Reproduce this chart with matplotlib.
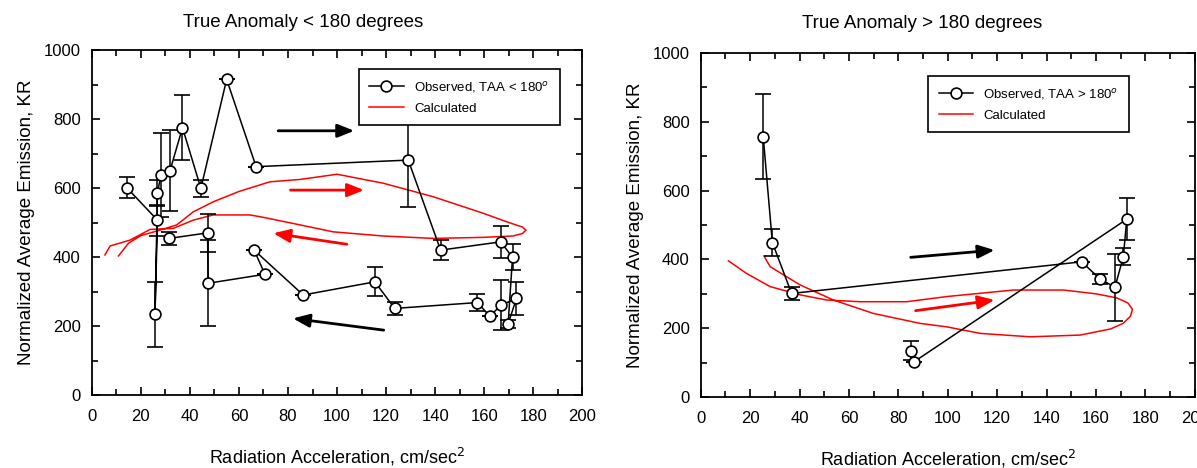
import numpy as np
import matplotlib
matplotlib.use("Agg")
import matplotlib.pyplot as plt
from matplotlib.ticker import MultipleLocator
from matplotlib.lines import Line2D

plt.rcParams['font.family'] = ['Liberation Sans', 'DejaVu Sans']

# ---- TAA < 180 : observed (in time order) ----
obs_lt_x = [14.3, 26.8, 25.8, 26.8, 28.2, 31.9, 37.0, 44.5, 55.0, 67.0, 129.0, 142.2,
            166.7, 171.5, 169.7, 173.1, 167.0, 162.2, 157.2, 123.5, 115.4, 86.2,
            66.2, 70.6, 47.5, 47.2, 31.6]
obs_lt_y = [601, 507, 234, 585, 638, 650, 775, 599, 915, 662, 681, 420,
            444, 399, 206, 280, 261, 229, 268, 251, 328, 290,
            420, 350, 324, 470, 454]
obs_lt_err = [30, 45, 95, 38, 122, 118, 95, 25, 0, 0, 137, 30,
              47, 38, 12, 48, 72, 0, 25, 18, 42, 0,
              0, 0, 124, 54, 18]

# ---- TAA < 180 : calculated loop ----
calc_lt_x = [10.9, 15.0, 20.0, 27.8, 34.6, 41.4, 49.5, 60.0, 72.6, 85.0, 100.0, 118.8,
             139.1, 159.5, 170.0, 175.5, 177.0, 175.5, 171.7, 159.5, 139.1, 118.8, 98.4,
             85.0, 70.0, 64.5, 49.5, 41.4, 33.2, 23.8, 15.6, 7.5, 5.4]
calc_lt_y = [403, 440, 462, 478, 493, 531, 560, 590, 618, 625, 640, 614,
             575, 527, 500, 487, 478, 468, 461, 457, 454, 461, 473,
             493, 515, 522, 522, 507, 483, 480, 449, 432, 406]

# ---- TAA > 180 : observed ----
obs_gt_x = [25.3, 29.0, 36.8, 154.2, 161.7, 167.7, 171.1, 172.5, 86.5, 85.0]
obs_gt_y = [757, 449, 301, 393, 343, 319, 408, 517, 103, 135]
obs_gt_err = [123, 40, 20, 0, 15, 98, 25, 62, 0, 28]

# ---- TAA > 180 : calculated loop ----
calc_gt_x = [11.2, 18.6, 28.1, 40.2, 51.0, 64.5, 83.4, 99.6, 126.6, 146.8, 160.0, 168.5,
             173.0, 174.8, 174.0, 171.0, 166.0, 153.6, 133.3, 113.1, 99.6, 88.8, 69.9,
             53.7, 40.2, 28.1, 25.6]
calc_gt_y = [396, 359, 321, 297, 282, 277, 277, 292, 311, 311, 300, 288,
             273, 255, 235, 214, 198, 180, 175, 185, 204, 214, 243,
             282, 326, 379, 410]

# direction arrows: (x_start, y_start, x_end, y_end, colour)
arrows_lt = [(76, 766, 107, 766, 'black'),
             (81, 594, 111, 594, 'red'),
             (104, 437, 74, 469, 'red'),
             (119, 188, 82, 222, 'black')]
arrows_gt = [(85, 406, 119, 427, 'black'),
             (87, 251, 119, 282, 'red')]

fig = plt.figure(figsize=(11.97, 4.68), dpi=100)
ax1 = fig.add_axes([0.0766, 0.156, 0.410, 0.737])
ax2 = fig.add_axes([0.5854, 0.1517, 0.4127, 0.735])


def draw_panel(ax, ox, oy, oe, cx, cy, arrows, label, title, title_x, title_y, leg_anchor):
    ax.plot(cx, cy, color='red', lw=1.1, zorder=1)
    ax.errorbar(ox, oy, yerr=oe, fmt='-o', color='black', mfc='white', mec='black',
                ms=7.8, mew=1.2, lw=1.1, elinewidth=1.1, capsize=6, capthick=1.2,
                zorder=3)
    for x0, y0, x1, y1, c in arrows:
        ax.annotate('', xy=(x1, y1), xytext=(x0, y0),
                    arrowprops=dict(arrowstyle='-|>,head_length=1.0,head_width=0.4',
                                    color=c, lw=2.0, shrinkA=0, shrinkB=0))
    ax.set_xlim(0, 200)
    ax.set_ylim(0, 1000)
    ax.xaxis.set_major_locator(MultipleLocator(20))
    ax.xaxis.set_minor_locator(MultipleLocator(10))
    ax.yaxis.set_major_locator(MultipleLocator(200))
    ax.yaxis.set_minor_locator(MultipleLocator(100))
    ax.tick_params(which='both', direction='in', top=True, right=True, labelsize=12)
    ax.tick_params(which='major', length=6, width=1.2)
    ax.tick_params(which='minor', length=4, width=1.2)
    ax.tick_params(axis='x', pad=10)
    ax.tick_params(axis='y', pad=8)
    for s in ax.spines.values():
        s.set_linewidth(1.3)
    ax.set_xlabel('Radiation Acceleration, cm/sec$^2$', fontsize=13, labelpad=16)
    ax.set_ylabel('Normalized Average Emission, KR', fontsize=13.5, labelpad=6)
    ax.text(title_x, title_y, title, transform=ax.transAxes, ha='center', va='center',
            fontsize=13.5)
    handles = [Line2D([], [], color='black', marker='o', mfc='white', mec='black',
                      ms=7.8, mew=1.2, lw=1.1),
               Line2D([], [], color='red', lw=1.1)]
    leg = ax.legend(handles, [label, 'Calculated'], loc='upper left',
                    bbox_to_anchor=leg_anchor, fontsize=9.5, handlelength=2.6,
                    frameon=True, fancybox=False, framealpha=1, borderpad=0.8,
                    labelspacing=0.6, borderaxespad=0)
    leg.get_frame().set_edgecolor('black')
    leg.get_frame().set_linewidth(1.2)


draw_panel(ax1, obs_lt_x, obs_lt_y, obs_lt_err, calc_lt_x, calc_lt_y, arrows_lt,
           'Observed, TAA < 180$^o$', 'True Anomaly < 180 degrees', 0.43, 1.08,
           (0.544, 0.945))
draw_panel(ax2, obs_gt_x, obs_gt_y, obs_gt_err, calc_gt_x, calc_gt_y, arrows_gt,
           'Observed, TAA > 180$^o$', 'True Anomaly > 180 degrees', 0.448, 1.087,
           (0.46, 0.933))

fig.savefig('out.png', dpi=100)
